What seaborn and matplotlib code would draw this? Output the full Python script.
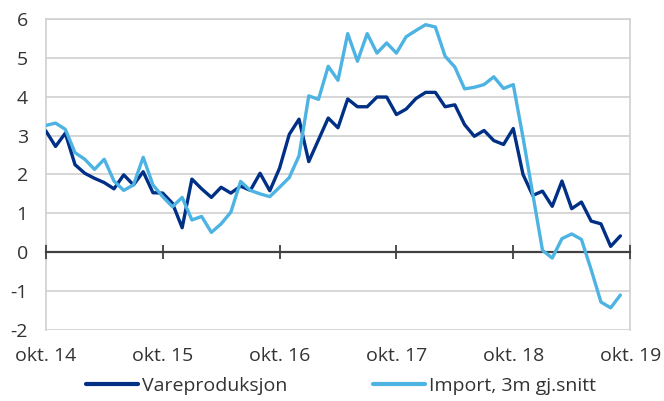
import matplotlib
matplotlib.use("Agg")
import matplotlib.pyplot as plt
import numpy as np
import pandas as pd
import seaborn as sns

# monthly values, okt. 14 - sep. 19
vareproduksjon = [3.12, 2.72, 3.06, 2.25, 2.03, 1.90, 1.79, 1.63, 1.99, 1.73,
                  2.07, 1.53, 1.52, 1.26, 0.63, 1.88, 1.63, 1.41, 1.67, 1.52,
                  1.70, 1.59, 2.03, 1.58, 2.16, 3.03, 3.42, 2.33, 2.89, 3.45,
                  3.20, 3.94, 3.74, 3.74, 3.99, 3.99, 3.54, 3.68, 3.95, 4.11,
                  4.11, 3.74, 3.79, 3.28, 2.98, 3.13, 2.87, 2.77, 3.18, 2.00,
                  1.46, 1.57, 1.18, 1.83, 1.12, 1.29, 0.80, 0.73, 0.15, 0.42]
import_3m = [3.26, 3.32, 3.16, 2.56, 2.39, 2.13, 2.39, 1.83, 1.59, 1.73,
             2.44, 1.73, 1.43, 1.17, 1.41, 0.83, 0.92, 0.51, 0.73, 1.03,
             1.82, 1.59, 1.50, 1.43, 1.67, 1.92, 2.48, 4.02, 3.93, 4.78,
             4.42, 5.62, 4.91, 5.62, 5.12, 5.38, 5.12, 5.54, 5.70, 5.85,
             5.79, 5.04, 4.76, 4.20, 4.24, 4.31, 4.51, 4.21, 4.31, 2.95,
             1.50, 0.05, -0.15, 0.35, 0.47, 0.33, -0.45, -1.28, -1.43, -1.10]
tick_labels = ["okt. 14", "okt. 15", "okt. 16", "okt. 17", "okt. 18", "okt. 19"]

df = pd.DataFrame({"mnd": np.arange(len(vareproduksjon)),
                   "Vareproduksjon": vareproduksjon,
                   "Import, 3m gj.snitt": import_3m})
long = df.melt(id_vars="mnd", var_name="serie", value_name="verdi")

sns.set_style("white")
plt.rcParams["font.family"] = ["Open Sans", "DejaVu Sans"]
plt.rcParams["axes.unicode_minus"] = False

fig = plt.figure(figsize=(6.64, 4.01), dpi=100)
ax = fig.add_axes([0.069, 0.177, 0.88, 0.776])

sns.lineplot(data=long, x="mnd", y="verdi", hue="serie",
             palette=["#002f86", "#4cb3e2"], linewidth=2.4, ax=ax)

ax.set_xlim(0, 60)
ax.set_ylim(-2, 6)
ax.set_yticks(range(-2, 7))
ax.set_xticks(range(0, 61, 12))
ax.set_xticklabels([])
ax.set_xlabel("")
ax.set_ylabel("")
ax.grid(axis="y", color="#d0d0d0", linewidth=1.2)
ax.set_axisbelow(True)
for s in ax.spines.values():
    s.set_color("#d0d0d0")
    s.set_linewidth(1.2)
    s.set_zorder(0.4)

# x axis line at zero with crossing ticks
ax.spines["bottom"].set_position(("data", 0))
ax.spines["bottom"].set_color("#404040")
ax.spines["bottom"].set_linewidth(1.6)
ax.spines["bottom"].set_zorder(0.6)
ax.tick_params(axis="x", bottom=True, direction="inout", length=10, width=1.3,
               color="#404040", labelbottom=False)
ax.tick_params(axis="y", length=0, pad=13, labelsize=14, colors="#333333")

# tick labels at the bottom of the plot area
lab = ax.secondary_xaxis("bottom")
lab.set_xticks(range(0, 61, 12))
lab.set_xticklabels(tick_labels)
lab.tick_params(bottom=False, length=0, pad=12, labelsize=14, colors="#333333")
lab.spines["bottom"].set_visible(False)

leg = ax.legend(loc="center", bbox_to_anchor=(0.505, -0.18), ncol=2,
                frameon=False, fontsize=14, handlelength=2.7,
                columnspacing=4.4, handletextpad=0.2)
for t in leg.get_texts():
    t.set_color("#333333")
for h in leg.get_lines():
    h.set_linewidth(3)

fig.savefig("out.png", dpi=100)
